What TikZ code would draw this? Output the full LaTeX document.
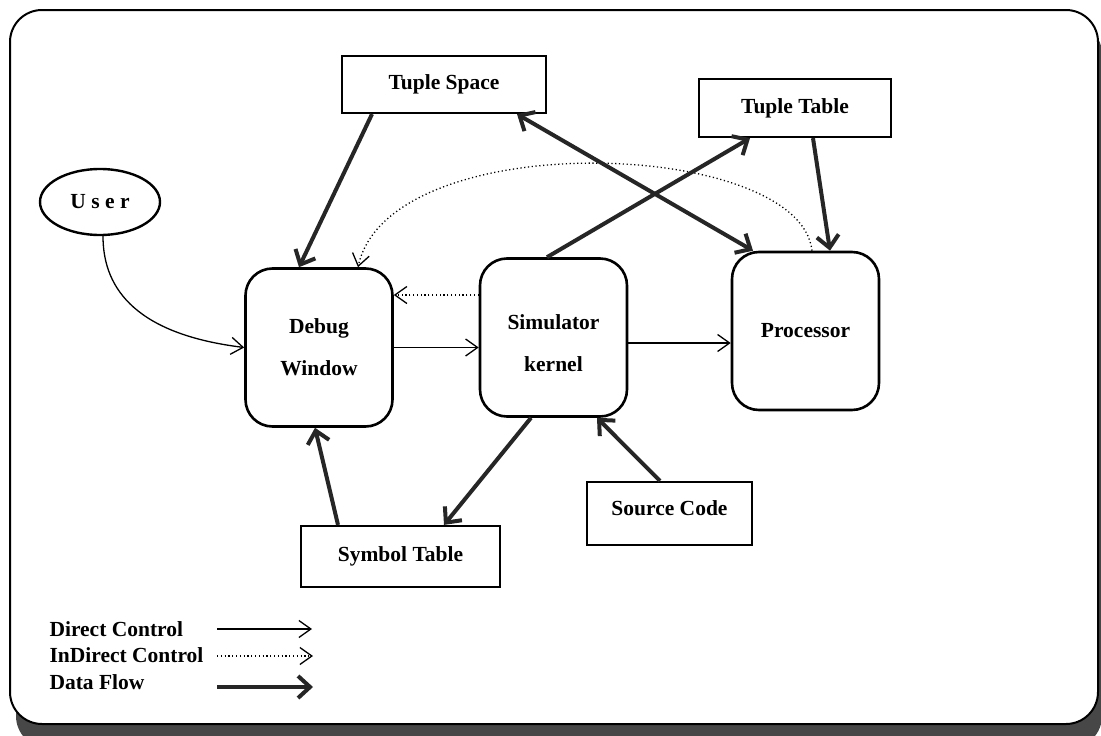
\documentclass[tikz,border=0pt]{standalone}
\usepackage{fontspec}
\setmainfont{Liberation Serif}
\usetikzlibrary{arrows.meta,calc,shapes.geometric}

\begin{document}
\begin{tikzpicture}[x=1pt,y=-1pt,
  lbl/.style={font=\bfseries\fontsize{21.5}{42}\selectfont, align=center},
  unit/.style={lbl, draw, line width=2.6pt, rounded corners=27pt,
               minimum width=147pt, minimum height=158pt, inner sep=0pt},
  store/.style={lbl, draw, line width=2.2pt, inner sep=0pt},
  ctrl/.style={line width=1.3pt, -{Straight Barb[length=12pt,width=17pt]}},
  ictrl/.style={line width=1.3pt, dash pattern=on 1.2pt off 2.6pt,
                -{Straight Barb[length=12pt,width=17pt]}},
  data/.style={line width=4pt, black!85, -{Straight Barb[length=12pt,width=22pt]}},
  ddata/.style={line width=4pt, black!85, {Straight Barb[length=12pt,width=22pt]}-{Straight Barb[length=12pt,width=22pt]}}
]
\useasboundingbox (0,0) rectangle (1101,736);

% frame with drop shadow
\fill[black!72, rounded corners=32pt] (16,22) rectangle (1102,748);
\draw[line width=2pt, fill=white, rounded corners=32pt] (10,10) rectangle (1098,724);

% processing units
\node[unit] (debug) at (319,347.5) {Debug\\Window};
\node[unit] (sim) at (553.5,337.5) {\rule{0pt}{27pt}Simulator\\kernel};
\node[unit] (proc) at (805.5,331) {Processor};

% data stores
\node[store, minimum width=204pt, minimum height=57pt] (tspace) at (444,84.5) {Tuple Space};
\node[store, minimum width=192pt, minimum height=58pt] (ttable) at (795,108) {Tuple Table};
\node[store, minimum width=199pt, minimum height=61pt] (symtab) at (400.5,556.5) {Symbol Table};
\node[store, minimum width=165pt, minimum height=63pt, text depth=10pt] (src) at (669.5,513.5) {Source Code};

% user
\node[draw, ellipse, line width=2.4pt, minimum width=120pt, minimum height=66pt, inner sep=0pt,
      font=\bfseries\fontsize{21.5}{24}\selectfont] (user) at (100,202) {U s e r};

% direct control
\draw[ctrl] ([xshift=3pt]user.south) .. controls +(0,55) and +(-105,-13) .. (debug.west);
\draw[ctrl] (debug.east) -- (debug.east -| sim.west);
\draw[ctrl] ([yshift=-5.5pt]sim.east) -- ([yshift=-12pt]proc.west);

% indirect control
\draw[ictrl] ([yshift=42.5pt]sim.west) -- ([yshift=52.5pt]debug.east);
\draw[ictrl] ([xshift=6.5pt]proc.north) .. controls +(-12,-112) and +(32,-143) .. ([xshift=39pt]debug.north);

% data flow
\draw[data] ([xshift=-72pt]tspace.south) -- ([xshift=-20pt]debug.north);
\draw[ddata] ([xshift=73pt]tspace.south) -- ([xshift=-52.5pt]proc.north);
\draw[data] ([xshift=-6.5pt]sim.north) -- ([xshift=-45pt]ttable.south);
\draw[data] ([xshift=18pt]ttable.south) -- ([xshift=24.5pt]proc.north);
\draw[data] ([xshift=-62.5pt]symtab.north) -- ([xshift=-4pt]debug.south);
\draw[data] ([xshift=-22.5pt]sim.south) -- ([xshift=43.5pt]symtab.north);
\draw[data] ([xshift=-9.5pt]src.north) -- ([xshift=43.5pt]sim.south);

% legend
\node[lbl, anchor=west] (l1) at (46,629) {Direct Control};
\node[lbl, anchor=west] (l2) at (46,655) {InDirect Control};
\node[lbl, anchor=west] (l3) at (46,682) {Data Flow};
\coordinate (a1s) at (217,629); \coordinate (a1e) at (312,629);
\coordinate (a2s) at (217,656); \coordinate (a2e) at (313,656);
\coordinate (a3s) at (217,687); \coordinate (a3e) at (313,687);
\draw[ctrl] (a1s) -- (a1e);
\draw[ictrl] (a2s) -- (a2e);
\draw[data] (a3s) -- (a3e);
\end{tikzpicture}
\end{document}
